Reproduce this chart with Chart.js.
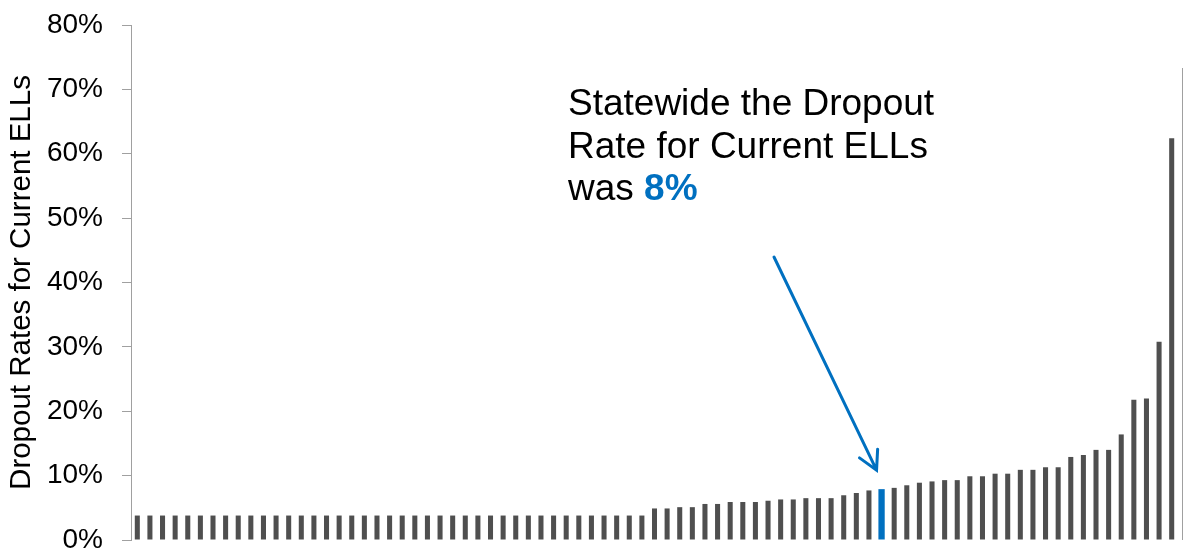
<!DOCTYPE html>
<html>
<head>
<meta charset="utf-8">
<title>Dropout Rates for Current ELLs</title>
<script src="https://cdn.jsdelivr.net/npm/chart.js@4/dist/chart.umd.min.js"></script>
<style>
  html, body { margin: 0; padding: 0; background: #fff; }
  #chart { display: block; }
</style>
</head>
<body>
<canvas id="chart" width="1183" height="552"></canvas>
<script>
// one value per district, sorted low to high (percent)
const dropoutRates = [
  3.8, 3.8, 3.8, 3.8, 3.8, 3.8, 3.8, 3.8, 3.8, 3.8,
  3.8, 3.8, 3.8, 3.8, 3.8, 3.8, 3.8, 3.8, 3.8, 3.8,
  3.8, 3.8, 3.8, 3.8, 3.8, 3.8, 3.8, 3.8, 3.8, 3.8,
  3.8, 3.8, 3.8, 3.8, 3.8, 3.8, 3.8, 3.8, 3.8, 3.8,
  3.8,
  4.9, 4.9, 5.1, 5.1, 5.6, 5.6, 5.9, 5.9, 5.9, 6.1,
  6.3, 6.3, 6.5, 6.5, 6.5, 6.95, 7.3, 7.7,
  7.9, // statewide
  8.1, 8.5, 8.9, 9.1, 9.3, 9.3, 9.9, 9.9, 10.3, 10.3,
  10.9, 10.9, 11.3, 11.3, 12.9, 13.2, 14.0, 14.0, 16.4, 21.8,
  22.0, 30.8, 62.4
];
const statewideIndex = 59;
const districtLabels = dropoutRates.map((_, i) => 'District ' + (i + 1));
const yTicks = [0, 10, 20, 30, 40, 50, 60, 70, 80];
const noteLines = ['Statewide the Dropout', 'Rate for Current ELLs', 'was '];
const statewideText = '8%';

const GREY = '#4f4f4f';
const BLUE = '#0070c0';
const AXIS = '#a0a0a0';
const FONT = "'Liberation Sans', Arial, sans-serif";

Chart.defaults.font.family = FONT;

// text box, arrow and the thin right frame line
const notePlugin = {
  id: 'note',
  afterDraw(chart) {
    const ctx = chart.ctx;
    const area = chart.chartArea;
    ctx.save();

    ctx.strokeStyle = AXIS;
    ctx.lineWidth = 1;
    ctx.beginPath();
    ctx.moveTo(1182.5, 68);
    ctx.lineTo(1182.5, area.bottom);
    ctx.stroke();

    ctx.font = '37px ' + FONT;
    ctx.fillStyle = '#000';
    ctx.textBaseline = 'alphabetic';
    ctx.fillText(noteLines[0], 568, 115);
    ctx.fillText(noteLines[1], 568, 158);
    ctx.fillText(noteLines[2], 568, 200);
    const w = ctx.measureText(noteLines[2]).width;
    ctx.font = 'bold 37px ' + FONT;
    ctx.fillStyle = BLUE;
    ctx.fillText(statewideText, 568 + w, 200);

    // arrow pointing at the statewide bar
    const bar = chart.getDatasetMeta(1).data[statewideIndex];
    const tipX = bar.x - 5, tipY = bar.y - 19;
    const startX = 774, startY = 257;
    const ang = Math.atan2(tipY - startY, tipX - startX);
    ctx.strokeStyle = BLUE;
    ctx.lineWidth = 3;
    ctx.lineCap = 'round';
    ctx.beginPath();
    ctx.moveTo(startX, startY);
    ctx.lineTo(tipX, tipY);
    ctx.moveTo(tipX - 21 * Math.cos(ang - 0.5), tipY - 21 * Math.sin(ang - 0.5));
    ctx.lineTo(tipX, tipY);
    ctx.lineTo(tipX - 21 * Math.cos(ang + 0.5), tipY - 21 * Math.sin(ang + 0.5));
    ctx.stroke();
    ctx.restore();
  }
};

new Chart(document.getElementById('chart'), {
  type: 'bar',
  data: {
    labels: districtLabels,
    datasets: [
      {
        label: 'Districts',
        data: dropoutRates.map((v, i) => i === statewideIndex ? null : v),
        backgroundColor: GREY,
        barPercentage: 0.4,
        categoryPercentage: 1,
        grouped: false
      },
      {
        label: 'Statewide',
        data: dropoutRates.map((v, i) => i === statewideIndex ? v : null),
        backgroundColor: BLUE,
        barPercentage: 0.5,
        categoryPercentage: 1,
        grouped: false
      }
    ]
  },
  options: {
    responsive: false,
    animation: false,
    devicePixelRatio: 1,
    layout: { padding: { left: 0, top: 25, right: 5, bottom: 12 } },
    plugins: {
      legend: { display: false },
      tooltip: { enabled: false }
    },
    scales: {
      x: { display: false },
      y: {
        min: 0,
        max: 80,
        afterBuildTicks: axis => { axis.ticks = yTicks.map(v => ({ value: v })); },
        // pin the axis line at x=131 and let the end labels overflow like the original
        afterFit: axis => {
          axis.width = 131;
          axis.paddingTop = 0;
          axis.paddingBottom = 0;
        },
        ticks: {
          callback: v => v + '%',
          color: '#000',
          padding: 19,
          font: { size: 28 }
        },
        grid: {
          drawOnChartArea: false,
          drawTicks: true,
          tickLength: 9,
          color: AXIS
        },
        border: { display: true, color: AXIS, width: 1 },
        title: {
          display: true,
          text: 'Dropout Rates for Current ELLs',
          color: '#000',
          font: { size: 29.5 },
          padding: { top: 4, bottom: 4 }
        }
      }
    }
  },
  plugins: [notePlugin]
});
</script>
</body>
</html>
